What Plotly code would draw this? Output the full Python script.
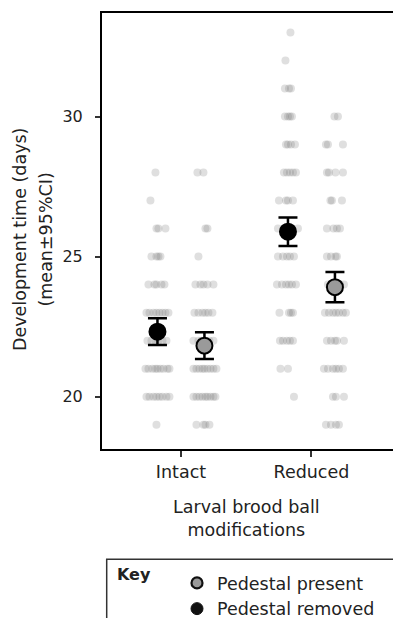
import plotly.graph_objects as go

# ---------------- data ----------------
categories = ["Intact", "Reduced"]
cat_pos = [0, 1]

# means and 95% CI half-widths (days)
removed_mean = [22.32, 25.89]
removed_ci = [0.48, 0.51]
present_mean = [21.82, 23.91]
present_ci = [0.48, 0.54]

# individual observations: development day -> horizontal jitter values
intact_removed_obs = {
    28: [-2], 27: [-7], 26: [-1, 1, 8], 25: [-6, -1, 1, 3],
    24: [-9, -3, -1, 4, 7], 23: [-11, -8, -4, -1, 2, 5, 8, 11],
    22: [-10, -6, -2, 1, 5, 9], 21: [-12, -9, -5, -2, 0, 3, 6, 10, 12],
    20: [-11, -8, -4, -1, 2, 5, 9, 12], 19: [-1],
}
intact_present_obs = {
    28: [-7, -1], 26: [1, 3], 25: [-6], 24: [-9, -4, -1, 3, 9],
    23: [-10, -6, -2, 1, 4, 8], 22: [-11, -6, -3, 1, 5, 9],
    21: [-11, -8, -5, -2, 0, 3, 6, 9, 12], 20: [-11, -8, -5, -2, 1, 3, 6, 9, 11],
    19: [-8, -1, 1, 5],
}
reduced_removed_obs = {
    33: [2.5], 32: [-2.5], 31: [-3, 1, 3], 30: [-3, 0, 2, 4], 29: [-2, 0, 3, 7],
    28: [-4, -1, 2, 5, 8], 27: [-9, -2, 0, 5], 26: [-10, -4, 0, 4, 10],
    25: [-10, -5, -1, 2, 6], 24: [-11, -6, -2, 1, 4, 8], 23: [-8.5, 1, 3, 5],
    22: [-8, -5, -1, 2, 5], 21: [-7.5, 0], 20: [6],
}
reduced_present_obs = {
    30: [-0.5, 3], 29: [-9, -7, 8], 28: [-8, -6, 0.5, 8], 27: [-4.5, -3, 7],
    26: [-8, -1.5, 2, 5], 25: [-8, -4, 0.5, 2], 24: [-7, -3, 1, 5, 9],
    23: [-10, -6, -2, 1, 4, 8, 11], 22: [-8, -4, 0, 2, 9],
    21: [-11, -7, -2, 1, 4, 8], 20: [-2, 1, 9], 19: [-9, -4, 1, 4],
}

dodge = 0.18            # group offset within a category
jitter_unit = 1 / 130.5 # category units per jitter step

POINT_COLOR = "rgba(110,110,110,0.22)"
GRAY = "#9a9a9a"
FONT = "DejaVu Sans"
TEXT = "#222222"

fig = go.Figure()

groups = [
    (intact_removed_obs, cat_pos[0] - dodge),
    (intact_present_obs, cat_pos[0] + dodge),
    (reduced_removed_obs, cat_pos[1] - dodge),
    (reduced_present_obs, cat_pos[1] + dodge),
]
for obs, base in groups:
    xs, ys = [], []
    for day, jits in obs.items():
        for j in jits:
            xs.append(base + j * jitter_unit)
            ys.append(day)
    fig.add_trace(go.Scatter(
        x=xs, y=ys, mode="markers", showlegend=False, hoverinfo="skip",
        marker=dict(size=8, color=POINT_COLOR, line=dict(width=0)),
    ))

# mean +/- CI
fig.add_trace(go.Scatter(
    x=[p - dodge for p in cat_pos], y=removed_mean, mode="markers", showlegend=False,
    marker=dict(size=16, color="black", line=dict(color="black", width=2)),
    error_y=dict(type="data", array=removed_ci, color="black", thickness=2.5, width=9.5),
))
fig.add_trace(go.Scatter(
    x=[p + dodge for p in cat_pos], y=present_mean, mode="markers", showlegend=False,
    marker=dict(size=16, color=GRAY, line=dict(color="black", width=2)),
    error_y=dict(type="data", array=present_ci, color="black", thickness=2.5, width=9.5),
))

# legend entries
fig.add_trace(go.Scatter(
    x=[None], y=[None], mode="markers", name="Pedestal present",
    marker=dict(size=11, color=GRAY, line=dict(color="#111", width=2.2)),
))
fig.add_trace(go.Scatter(
    x=[None], y=[None], mode="markers", name="Pedestal removed",
    marker=dict(size=12, color="#111", line=dict(color="#111", width=1)),
))

# figure slightly wider than the window so the open right side runs off-screen
W, H = 400, 618
L, R, T, B = 102, 0, 13, 169
pw, ph = W - L - R, H - T - B
cat_px = 130.5  # pixels per category step
x_lo = -0.605
x_hi = x_lo + pw / cat_px

def px_x(x):
    return (x - L) / pw

def px_y(y):
    return (H - B - y) / ph

fig.update_layout(
    width=W, height=H,
    margin=dict(l=L, r=R, t=T, b=B, autoexpand=False),
    plot_bgcolor="white", paper_bgcolor="white",
    font=dict(family=FONT, size=17, color=TEXT),
    xaxis=dict(
        range=[x_lo, x_hi], tickmode="array", tickvals=cat_pos, ticktext=categories,
        showline=True, linecolor="black", linewidth=2, mirror=True,
        ticks="outside", ticklen=6, tickwidth=2, tickcolor="#333",
        showgrid=False, zeroline=False, tickfont=dict(size=17.5, color=TEXT),
    ),
    yaxis=dict(
        range=[18.13, 33.70], tickmode="array", tickvals=[20, 25, 30],
        showline=True, linecolor="black", linewidth=2, mirror=False,
        ticks="outside", ticklen=5, tickwidth=2, tickcolor="#333",
        ticklabelstandoff=9,
        showgrid=False, zeroline=False, tickfont=dict(size=16, color=TEXT),
    ),
    legend=dict(
        x=px_x(177), y=px_y(565), xanchor="left", yanchor="top",
        bgcolor="rgba(0,0,0,0)", borderwidth=0,
        font=dict(size=17.5, color=TEXT, family=FONT),
    ),
    shapes=[dict(
        type="rect", xref="paper", yref="paper",
        x0=px_x(106.7), x1=px_x(430), y0=px_y(559.3), y1=px_y(680),
        line=dict(color="#333", width=1.5), fillcolor="rgba(0,0,0,0)", layer="below",
    )],
    annotations=[
        dict(text="Development time (days)", xref="paper", yref="paper",
             x=px_x(20), y=px_y(240), xanchor="center", yanchor="middle",
             textangle=-90, showarrow=False, font=dict(size=17.5, color=TEXT)),
        dict(text="(mean±95%CI)", xref="paper", yref="paper",
             x=px_x(45.5), y=px_y(240), xanchor="center", yanchor="middle",
             textangle=-90, showarrow=False, font=dict(size=17.5, color=TEXT)),
        dict(text="Larval brood ball<br>modifications", xref="paper", yref="paper",
             x=px_x(246.3), y=px_y(495), xanchor="center", yanchor="top",
             showarrow=False, font=dict(size=17.5, color=TEXT)),
        dict(text="<b>Key</b>", xref="paper", yref="paper",
             x=px_x(115), y=px_y(563), xanchor="left", yanchor="top",
             showarrow=False, font=dict(size=16, color=TEXT)),
    ],
)

fig.write_html(
    "out.html",
    config={"displayModeBar": False},
    post_script="document.body.style.margin='0';document.body.style.overflow='hidden';",
)
